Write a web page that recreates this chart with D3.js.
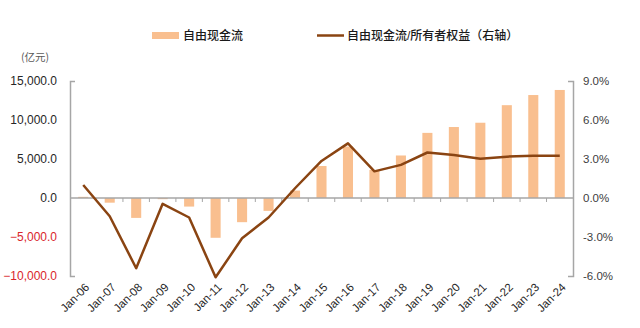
<!DOCTYPE html>
<html>
<head>
<meta charset="utf-8">
<script src="https://cdn.jsdelivr.net/npm/d3@7"></script>
<style>
  body { margin: 0; background: #fff; }
  text { font-family: "Liberation Sans", Arial, "Noto Sans CJK SC", sans-serif; }
  .cjk { font-family: "Noto Sans CJK SC", sans-serif; }
</style>
</head>
<body>
<div id="chart"></div>
<script>
// categories and series
const years = ["Jan-06", "Jan-07", "Jan-08", "Jan-09", "Jan-10", "Jan-11", "Jan-12", "Jan-13", "Jan-14", "Jan-15",
  "Jan-16", "Jan-17", "Jan-18", "Jan-19", "Jan-20", "Jan-21", "Jan-22", "Jan-23", "Jan-24"];
const fcf = [150, -600, -2550, -150, -1100, -5100, -3100, -1650, 950, 4100,
  6600, 3600, 5450, 8350, 9100, 9650, 11900, 13200, 13850];
const fcfRatio = [1.0, -1.4, -5.4, -0.45, -1.5, -6.1, -3.1, -1.5, 0.75, 2.85,
  4.2, 2.05, 2.55, 3.5, 3.3, 3.02, 3.18, 3.25, 3.25];
const leftTicks = [-10000, -5000, 0, 5000, 10000, 15000];
const rightTicks = [-6, -3, 0, 3, 6, 9];

const W = 640, H = 328;
const m = { top: 81, right: 67, bottom: 52, left: 70 };

const svg = d3.select("#chart").append("svg")
    .attr("width", W)
    .attr("height", H);

const x = d3.scaleBand()
    .domain(years)
    .range([m.left, W - m.right])
    .paddingInner(0.62)
    .paddingOuter(0.31);
const yL = d3.scaleLinear().domain([-10000, 15000]).range([H - m.bottom, m.top]);
const yR = d3.scaleLinear().domain([-6, 9]).range([H - m.bottom, m.top]);

const fmtL = d3.format(",.1f");
const fmtR = d => d.toFixed(1) + "%";

// bars
svg.append("g")
    .selectAll("rect")
    .data(fcf)
    .join("rect")
    .attr("x", (d, i) => x(years[i]))
    .attr("width", x.bandwidth())
    .attr("y", d => yL(Math.max(0, d)))
    .attr("height", d => Math.abs(yL(d) - yL(0)))
    .attr("fill", "#f9bf8f");

// left axis
const axL = svg.append("g")
    .attr("transform", `translate(${m.left},0)`)
    .call(d3.axisLeft(yL).tickValues(leftTicks).tickFormat(fmtL).tickSizeInner(0).tickSizeOuter(-5).tickPadding(13));
axL.select(".domain").attr("stroke", "#a6a6a6").attr("stroke-width", 1.5);
axL.selectAll("text")
    .attr("font-size", 12)
    .attr("fill", d => d < 0 ? "#d9262b" : "#262626");

// right axis
const axR = svg.append("g")
    .attr("transform", `translate(${W - m.right},0)`)
    .call(d3.axisRight(yR).tickValues(rightTicks).tickFormat(fmtR).tickSizeInner(0).tickSizeOuter(-5).tickPadding(10));
axR.select(".domain").attr("stroke", "#a6a6a6").attr("stroke-width", 1.5);
axR.selectAll("text")
    .attr("font-size", 11.5)
    .attr("fill", "#404040");

// x axis on the zero line, ticks between categories
const step = x.step();
const xb = svg.append("g");
xb.append("line")
    .attr("x1", m.left).attr("x2", W - m.right)
    .attr("y1", yL(0)).attr("y2", yL(0))
    .attr("stroke", "#a6a6a6").attr("stroke-width", 1.5);
xb.selectAll("line.tk")
    .data(d3.range(1, years.length))
    .join("line")
    .attr("class", "tk")
    .attr("x1", i => m.left + i * step).attr("x2", i => m.left + i * step)
    .attr("y1", yL(0)).attr("y2", yL(0) + 4)
    .attr("stroke", "#a6a6a6");

// rotated category labels
svg.append("g")
    .selectAll("text")
    .data(years)
    .join("text")
    .attr("transform", d => `translate(${x(d) + x.bandwidth() / 2 + 4},${H - m.bottom + 9}) rotate(-45)`)
    .attr("text-anchor", "end")
    .attr("dy", "0.35em")
    .attr("font-size", 11.5)
    .attr("fill", "#262626")
    .text(d => d);

// ratio line
const line = d3.line()
    .x((d, i) => x(years[i]) + x.bandwidth() / 2)
    .y(d => yR(d));
svg.append("path")
    .datum(fcfRatio)
    .attr("d", line)
    .attr("fill", "none")
    .attr("stroke", "#8a4412")
    .attr("stroke-width", 2.5)
    .attr("stroke-linejoin", "round");

// unit label
svg.append("text")
    .attr("class", "cjk")
    .attr("x", 35).attr("y", 61)
    .attr("text-anchor", "middle")
    .attr("font-size", 10.5)
    .attr("fill", "#595959")
    .text("(亿元)");

// legend
const lg = svg.append("g").attr("class", "cjk");
lg.append("rect")
    .attr("x", 152).attr("y", 32).attr("width", 27).attr("height", 7)
    .attr("fill", "#f9bf8f");
lg.append("text")
    .attr("x", 183).attr("y", 35.5).attr("dy", "0.35em")
    .attr("font-size", 12).attr("font-weight", 500).attr("fill", "#1a1a1a")
    .text("自由现金流");
lg.append("line")
    .attr("x1", 317).attr("x2", 344).attr("y1", 35.5).attr("y2", 35.5)
    .attr("stroke", "#8a4412").attr("stroke-width", 2.5);
lg.append("text")
    .attr("x", 347).attr("y", 35.5).attr("dy", "0.35em")
    .attr("font-size", 12).attr("font-weight", 500).attr("fill", "#1a1a1a")
    .text("自由现金流/所有者权益（右轴）");
</script>
</body>
</html>
